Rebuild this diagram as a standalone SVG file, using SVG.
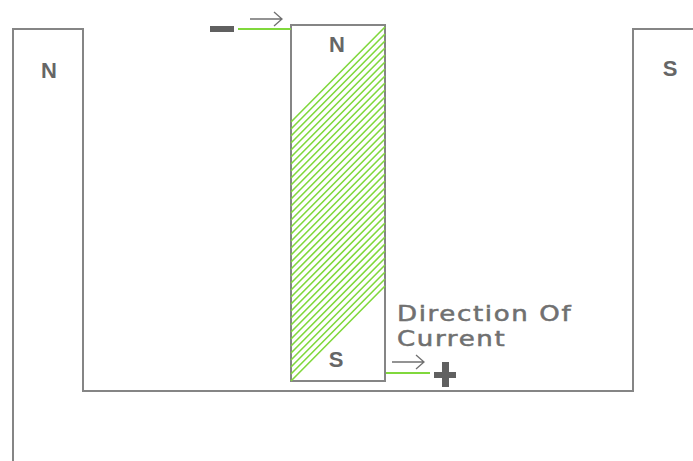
<svg xmlns="http://www.w3.org/2000/svg" width="693" height="461" viewBox="0 0 693 461">
<style>
.frame{fill:none;stroke:#858585;stroke-width:2}
.wire{fill:none;stroke:#80d83c;stroke-width:2}
.hatch{fill:none;stroke:#80d83c;stroke-width:1.6}
.arr{fill:none;stroke:#707070;stroke-width:1.3}
.pole{font-family:"Liberation Sans",sans-serif;font-weight:bold;font-size:22px;fill:#666;text-anchor:middle}
.lab{font-family:"DejaVu Sans",sans-serif;font-size:20.5px;fill:#707070;stroke:#707070;stroke-width:.5;letter-spacing:1.3px}
.sign{fill:#606060}
</style>
<rect width="693" height="461" fill="#fff"/>
<g id="magnet"><path class="frame" d="M13 461V29H83V391H633V29H693"/>
<text class="pole" x="49" y="78">N</text><text class="pole" x="670" y="76">S</text></g>
<g id="rotor"><rect class="frame" x="291" y="25" width="94" height="356"/>
<path class="hatch" d="M291 122L385 27M291 129L385 34M291 136L385 41M291 143L385 48M291 150L385 55M291 157L385 62M291 164L385 69M291 171L385 76M291 178L385 83M291 185L385 90M291 192L385 97M291 199L385 104M291 206L385 111M291 213L385 118M291 220L385 125M291 227L385 132M291 234L385 139M291 241L385 146M291 248L385 153M291 255L385 160M291 262L385 167M291 269L385 174M291 276L385 181M291 283L385 188M291 290L385 195M291 297L385 202M291 304L385 209M291 311L385 216M291 318L385 223M291 325L385 230M291 332L385 237M291 339L385 244M291 346L385 251M291 353L385 258M291 360L385 265M291 367L385 272M291 374L385 279M291 381L385 286"/>
<text class="pole" x="337" y="52">N</text><text class="pole" x="336" y="367">S</text></g>
<g id="connectors"><path class="wire" d="M238 29H291"/><path class="wire" d="M386 373H430"/>
<path class="arr" d="M250 19H281M274 12L282 19L274 26"/><path class="arr" d="M392 362H423M416 355L424 362L416 369"/></g>
<g id="minus"><rect class="sign" x="210" y="26" width="24" height="6"/></g>
<g id="plus"><path class="sign" d="M442 362H449V372H456V378H449V387H442V378H434V372H442Z"/></g>
<g id="label"><text class="lab" transform="translate(397 321) scale(1.27 1)">Direction Of</text><text class="lab" transform="translate(397 345.500) scale(1.27 1)">Current</text></g>
</svg>
